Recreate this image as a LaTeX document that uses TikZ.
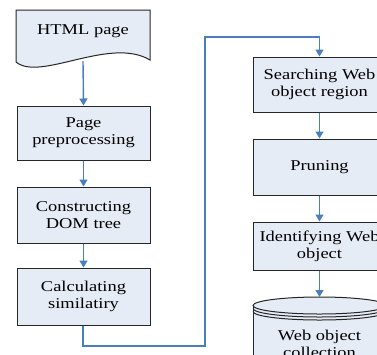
\documentclass[tikz,border=0pt]{standalone}
\usepackage{fontspec}
\setmainfont[FakeStretch=1.23]{Liberation Serif}
\definecolor{boxfill}{RGB}{230,236,246}
\definecolor{flow}{RGB}{74,126,193}
\usetikzlibrary{arrows.meta}
\begin{document}
\begin{tikzpicture}[x=1pt,y=-1pt,
  stepbox/.style={draw=black!85,line width=1pt,fill=boxfill,minimum width=133pt,inner sep=0pt,align=center,font=\fontsize{15}{17}\selectfont},
  label/.style={align=center,inner sep=0pt,font=\fontsize{15}{17}\selectfont},
  flowline/.style={draw=flow,line width=1.4pt,-{Triangle[length=7pt,width=8pt]}},
  outline/.style={draw=black!85,line width=1pt,fill=boxfill}]
\useasboundingbox (0,0) rectangle (377,354);
\clip (0,0) rectangle (377,354);
\fill[white] (0,0) rectangle (377,354);
% HTML page document shape
\draw[outline] (16,10) -- (150,10) -- (150,60) .. controls (110,36) and (40,82) .. (16,62) -- cycle;
\node[label] (html) at (83,31) {HTML page};
\coordinate (htmlbot) at (83,61);
% left column
\node[stepbox,minimum height=54pt] (prep) at (83.5,133) {Page\\preprocessing};
\node[stepbox,minimum height=56pt] (dom) at (83.5,215) {Constructing\\DOM tree};
\node[stepbox,minimum height=57pt] (calc) at (83.5,296.5) {Calculating\\similatiry};
% right column
\node[stepbox,minimum height=55pt] (search) at (319.5,84.5) {Searching Web\\object region};
\node[stepbox,minimum height=56pt] (prune) at (319.5,167) {Pruning};
\node[stepbox,minimum height=48pt] (ident) at (319.5,246) {Identifying Web\\object};
% database cylinder
\draw[outline] (253,305.5) -- (253,380) -- (386,380) -- (386,305.5);
\draw[outline] (319.5,305.5) ellipse [x radius=66.5, y radius=8.5];
\draw[draw=black!85,line width=1pt] (253,308.5) arc[start angle=180,end angle=0,x radius=66.5,y radius=8.5];
\draw[draw=black!85,line width=1pt] (253,311.5) arc[start angle=180,end angle=0,x radius=66.5,y radius=8.5];
\node[label] (db) at (319.5,343.5) {Web object\\collection};
\coordinate (dbtop) at (319.5,297);
% connectors
\draw[flowline] (htmlbot) -- (prep.north);
\draw[flowline] (prep) -- (dom);
\draw[flowline] (dom) -- (calc);
\coordinate (c1) at (83,346);
\coordinate (c2) at (205,346);
\coordinate (c3) at (205,37);
\coordinate (c4) at (319.5,37);
\draw[flowline] (calc.south -| c1) -- (c1) -- (c2) -- (c3) -- (c4) -- (search.north);
\draw[flowline] (search) -- (prune);
\draw[flowline] (prune) -- (ident);
\draw[flowline] (ident) -- (dbtop);
\end{tikzpicture}
\end{document}
